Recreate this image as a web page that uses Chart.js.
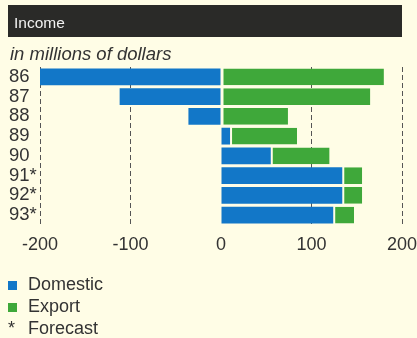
<!DOCTYPE html>
<html>
<head>
<meta charset="utf-8">
<script src="https://cdn.jsdelivr.net/npm/chart.js@4"></script>
<style>
  html, body { margin:0; padding:0; }
  body { width:417px; height:338px; background:#fffde6; position:relative; overflow:hidden;
         font-family: "Liberation Sans", Arial, sans-serif; color:#333; }
  #bar { position:absolute; left:8px; top:5px; width:394px; height:32px; background:#2a2a28; }
  #bar span { position:absolute; left:6px; top:9px; color:#f2f2f2; font-size:15.5px; line-height:18px; }
  #sub { position:absolute; left:10px; top:43px; font-size:18.5px; font-style:italic; color:#333; }
  #wrap { position:absolute; left:0; top:0; width:417px; height:338px; }
  .leg { position:absolute; left:8px; font-size:18px; color:#333; white-space:nowrap; }
  .sw { display:inline-block; width:9px; height:9px; margin-right:11px; }
</style>
</head>
<body>
<div id="wrap"><canvas id="c" width="417" height="338"></canvas></div>
<div id="bar"><span>Income</span></div>
<div id="sub">in millions of dollars</div>
<div class="leg" style="top:274px;"><span class="sw" style="background:#1277c8"></span>Domestic</div>
<div class="leg" style="top:296px;"><span class="sw" style="background:#3fa83a"></span>Export</div>
<div class="leg" style="top:318px;"><span style="display:inline-block;width:20px;">*</span>Forecast</div>
<script>
const years = ["86", "87", "88", "89", "90", "91*", "92*", "93*"];
const domestic = [-200, -112, -36, 10, 55, 134, 134, 124];
const exportVals = [180, 165, 74, 74, 65, 22, 22, 23];
const xTicks = [-200, -100, 0, 100, 200];

const BG = "#fffde6";
new Chart(document.getElementById("c"), {
  type: "bar",
  data: {
    labels: years,
    datasets: [
      { label: "Domestic", data: domestic, backgroundColor: "#1277c8", borderWidth: 0,
        barPercentage: 0.85, categoryPercentage: 1.0 },
      { label: "Export", data: exportVals, backgroundColor: "#3fa83a", borderColor: BG,
        borderWidth: { left: 2, right: 0, top: 0, bottom: 0 }, borderSkipped: false,
        barPercentage: 0.85, categoryPercentage: 1.0 }
    ]
  },
  options: {
    indexAxis: "y",
    responsive: false,
    animation: false,
    layout: { padding: { left: 9, right: 15, top: 67, bottom: 83 } },
    plugins: { legend: { display: false }, tooltip: { enabled: false } },
    scales: {
      x: {
        stacked: true, min: -200, max: 200,
        afterBuildTicks: (s) => { s.ticks = xTicks.map(v => ({ value: v })); },
        afterFit: (s) => { s.height = 30; s.paddingRight = 0; s.paddingLeft = 0; },
        border: { display: false, dash: [5, 3] },
        grid: {
          drawTicks: false,
          color: (ctx) => (ctx.tick && ctx.tick.value === 0) ? "rgba(0,0,0,0)" : "#555",
          lineWidth: 1,
        },
        ticks: { padding: 9, color: "#333", font: { family: "Liberation Sans", size: 18 } }
      },
      y: {
        stacked: true,
        afterFit: (s) => { s.width = 31; },
        border: { display: false },
        grid: { display: false },
        ticks: { autoSkip: false, crossAlign: "far", padding: 0, color: "#333",
                 font: { family: "Liberation Sans", size: 18.5 } }
      }
    }
  }
});
</script>
</body>
</html>
